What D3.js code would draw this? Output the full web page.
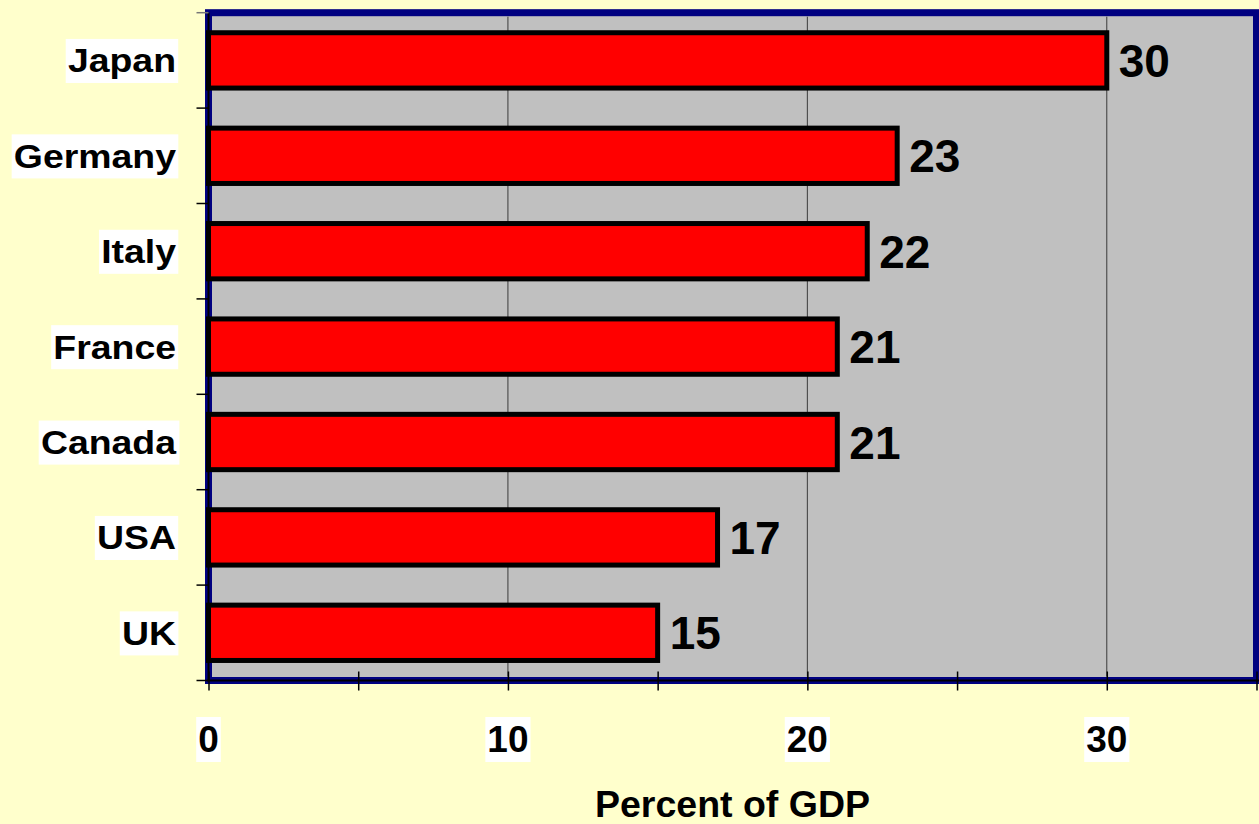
<!DOCTYPE html>
<html>
<head>
<meta charset="utf-8">
<script src="https://cdn.jsdelivr.net/npm/d3@7"></script>
<style>
  html, body { margin: 0; padding: 0; background: #FFFFCC; }
  svg { display: block; font-family: "Liberation Sans", Arial, sans-serif; font-weight: bold; }
</style>
</head>
<body>
<svg id="chart" width="1259" height="824"></svg>
<script>
// Data: spending as percent of GDP by country
const categories = ["Japan", "Germany", "Italy", "France", "Canada", "USA", "UK"];
const values = [30, 23, 22, 21, 21, 17, 15];
const xTickLabels = [0, 10, 20, 30];
const xTickMarks = [0, 5, 10, 15, 20, 25, 30, 35];
const axisTitle = "Percent of GDP";

(function () {
const svg = d3.select("#chart");
const W = 1259, H = 824;
const plotL = 208.5, plotR = 1256.5, plotT = 12.7, plotB = 680.5;

svg.append("rect").attr("width", W).attr("height", H).attr("fill", "#FFFFCC");

const x = d3.scaleLinear().domain([0, 35]).range([plotL, plotR]);
const y = d3.scaleBand().domain(categories).range([plotT, plotB])
  .paddingInner(0.42).paddingOuter(0.21);

// plot area
svg.append("rect")
  .attr("x", plotL).attr("y", plotT)
  .attr("width", plotR - plotL).attr("height", plotB - plotT)
  .attr("fill", "#C0C0C0")
  .attr("stroke", "#000080").attr("stroke-width", 7);

// vertical gridlines
svg.append("g").selectAll("line").data([10, 20, 30]).join("line")
  .attr("x1", d => x(d)).attr("x2", d => x(d))
  .attr("y1", plotT + 4).attr("y2", plotB - 4)
  .attr("stroke", "#3a3a3a").attr("stroke-width", 1);

// bars
svg.append("g").selectAll("rect").data(values).join("rect")
  .attr("x", x(0))
  .attr("y", (d, i) => y(categories[i]))
  .attr("width", d => x(d) - x(0))
  .attr("height", y.bandwidth())
  .attr("fill", "#FF0000")
  .attr("stroke", "#000").attr("stroke-width", 5);

// value labels
svg.append("g").selectAll("text").data(values).join("text")
  .attr("x", d => x(d) + 12)
  .attr("y", (d, i) => y(categories[i]) + y.bandwidth() / 2)
  .attr("dy", "0.36em")
  .attr("font-size", 46)
  .attr("fill", "#000")
  .text(d => d);

// axis lines
svg.append("line").attr("x1", plotL).attr("x2", plotL).attr("y1", plotT).attr("y2", plotB + 1)
  .attr("stroke", "#000").attr("stroke-width", 2);
svg.append("line").attr("x1", plotL - 1).attr("x2", W).attr("y1", plotB).attr("y2", plotB)
  .attr("stroke", "#000").attr("stroke-width", 2);

// y ticks at category boundaries
const gap = (y.step() - y.bandwidth()) / 2;
const edges = categories.map(c => y(c) - gap)
  .concat([y(categories[categories.length - 1]) + y.bandwidth() + gap]);
svg.append("g").selectAll("line").data(edges).join("line")
  .attr("x1", plotL - 12).attr("x2", plotL)
  .attr("y1", d => d).attr("y2", d => d)
  .attr("stroke", (d, i) => i === 0 ? "#777" : "#000").attr("stroke-width", 1.5);

// x tick marks crossing the axis
const down = d3.axisBottom(x).tickValues(xTickMarks).tickSize(10).tickFormat("");
const up = d3.axisTop(x).tickValues(xTickMarks).tickSize(9).tickFormat("");
svg.append("g").attr("transform", `translate(0,${plotB})`).call(down)
  .call(g => g.select(".domain").remove())
  .call(g => g.selectAll("line").attr("stroke", "#000").attr("stroke-width", 1.5));
svg.append("g").attr("transform", `translate(0,${plotB})`).call(up)
  .call(g => g.select(".domain").remove())
  .call(g => g.selectAll("line").attr("stroke", "#000").attr("stroke-width", 1.5));

// text with a white box behind it
function boxedText(g, px, py, str, size, anchor, sx, padX, padY) {
  const grp = g.append("g").attr("transform", `translate(${px},${py}) scale(${sx},1)`);
  const r = grp.append("rect").attr("fill", "#fff");
  const t = grp.append("text").attr("text-anchor", anchor).attr("font-size", size)
    .attr("fill", "#000").text(str);
  const b = t.node().getBBox();
  r.attr("x", b.x - padX).attr("y", b.y - padY)
   .attr("width", b.width + 2 * padX).attr("height", b.height + 2 * padY);
  return grp;
}

// category labels
const catG = svg.append("g");
categories.forEach(c => {
  const cy = y(c) + y.bandwidth() / 2;
  boxedText(catG, 176, cy + 12, c, 34, "end", 1.1, 2, 3);
});

// x tick labels
const xl = svg.append("g");
xTickLabels.forEach(v => {
  boxedText(xl, x(v), 752, v, 37, "middle", 1, 2, 2);
});

// axis title
svg.append("text")
  .attr("x", (plotL + plotR) / 2).attr("y", 817)
  .attr("text-anchor", "middle").attr("font-size", 37.5).attr("fill", "#000")
  .text(axisTitle);
})();
</script>
</body>
</html>
